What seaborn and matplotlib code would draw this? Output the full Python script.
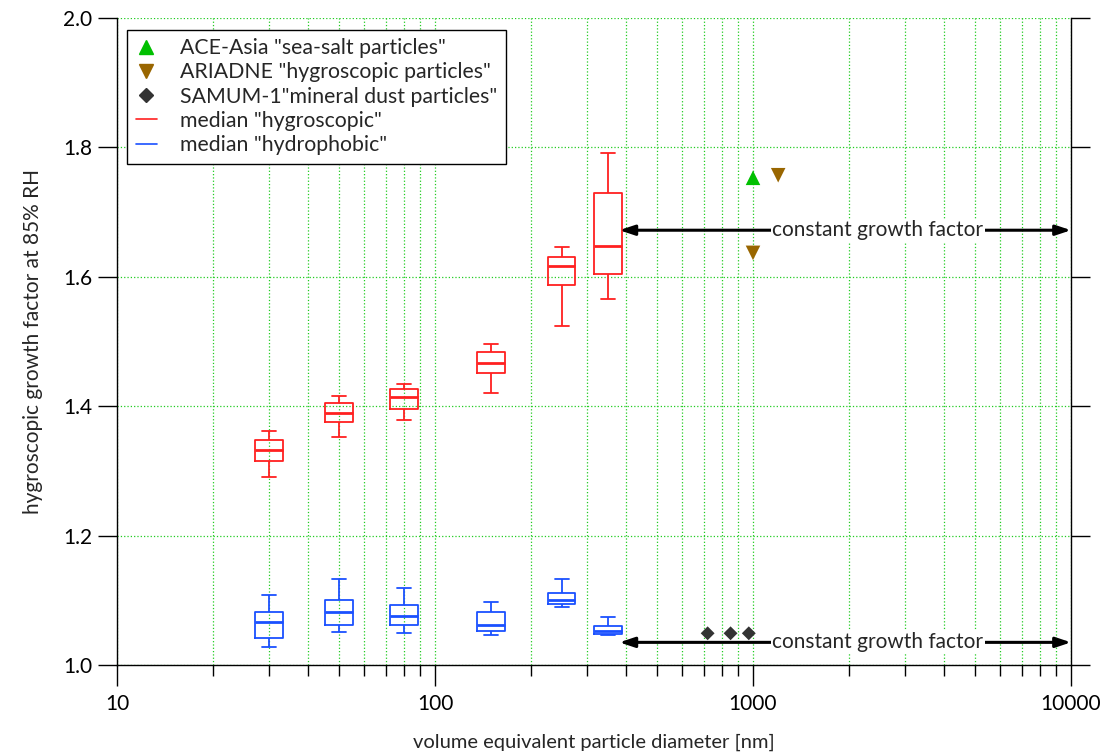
import numpy as np
import pandas as pd
import matplotlib
matplotlib.use("Agg")
import matplotlib.pyplot as plt
import matplotlib.ticker as mticker
from matplotlib.lines import Line2D
import seaborn as sns

# box plot positions: volume equivalent particle diameter [nm]
diameters = [30, 50, 80, 150, 250, 350]

# hygroscopic mode (red): lower whisker, q1, median, q3, upper whisker
hyg_low = [1.291, 1.353, 1.379, 1.420, 1.524, 1.566]
hyg_q1 = [1.315, 1.376, 1.396, 1.451, 1.587, 1.604]
hyg_med = [1.333, 1.390, 1.414, 1.467, 1.616, 1.648]
hyg_q3 = [1.347, 1.405, 1.427, 1.483, 1.631, 1.730]
hyg_high = [1.362, 1.416, 1.435, 1.496, 1.646, 1.792]

# hydrophobic mode (blue)
hph_low = [1.028, 1.051, 1.050, 1.047, 1.089, 1.047]
hph_q1 = [1.042, 1.062, 1.062, 1.052, 1.095, 1.048]
hph_med = [1.066, 1.082, 1.075, 1.062, 1.101, 1.053]
hph_q3 = [1.082, 1.100, 1.092, 1.082, 1.111, 1.060]
hph_high = [1.108, 1.133, 1.119, 1.098, 1.133, 1.074]

# other campaigns
ace_d = [1000]
ace_gf = [1.753]
ariadne_d = [1200, 1000]
ariadne_gf = [1.757, 1.637]
samum_d = [720, 850, 970]
samum_gf = [1.049, 1.049, 1.049]

# constant growth factor ranges
const_start = 380
const_end = 10000
const_hyg = 1.672
const_hph = 1.035
const_label_x = 2470


def to_long(low, q1, med, q3, high):
    rows = []
    for i, d in enumerate(diameters):
        for v in (low[i], q1[i], med[i], q3[i], high[i]):
            rows.append({"d": d, "gf": v})
    return pd.DataFrame(rows)


hyg = to_long(hyg_low, hyg_q1, hyg_med, hyg_q3, hyg_high)
hph = to_long(hph_low, hph_q1, hph_med, hph_q3, hph_high)

sns.set_style("ticks")
plt.rcParams["font.family"] = ["Lato", "DejaVu Sans"]

fig = plt.figure(figsize=(11.07, 7.56), dpi=100)
ax = fig.add_axes([117 / 1107, 1 - 665 / 756, (1071 - 117) / 1107, (665 - 18) / 756])
ax.set_xscale("log")

red = "#ff2020"
blue = "#1a50ff"
for df, col in [(hyg, red), (hph, blue)]:
    sns.boxplot(data=df, x="d", y="gf", native_scale=True, whis=(0, 100),
                fill=False, color=col, linecolor=col, width=0.6, linewidth=1.3,
                medianprops=dict(linewidth=2.0), legend=False, ax=ax)

sns.scatterplot(x=ace_d, y=ace_gf, marker="^", s=110, color="#00c000",
                edgecolor="none", ax=ax, zorder=4)
sns.scatterplot(x=ariadne_d, y=ariadne_gf, marker="v", s=110, color="#996600",
                edgecolor="none", ax=ax, zorder=4)
sns.scatterplot(x=samum_d, y=samum_gf, marker="D", s=50, color="#333333",
                edgecolor="none", ax=ax, zorder=4)

for yv in [const_hyg, const_hph]:
    ax.annotate("", xy=(const_end, yv), xytext=(const_start, yv),
                arrowprops=dict(arrowstyle="<|-|>,head_length=0.9,head_width=0.3",
                                lw=2.2, color="black", shrinkA=0, shrinkB=0),
                zorder=5)
    ax.text(const_label_x, yv, "constant growth factor", ha="center", va="center",
            fontsize=15, zorder=6,
            bbox=dict(facecolor="white", edgecolor="none", pad=1.0))

ax.set_xlim(10, 10000)
ax.set_ylim(1.0, 2.0)
ax.set_yticks([1.0, 1.2, 1.4, 1.6, 1.8, 2.0])
ax.yaxis.set_major_formatter(mticker.FormatStrFormatter("%.1f"))
ax.xaxis.set_major_locator(mticker.LogLocator(base=10))
ax.xaxis.set_minor_locator(mticker.LogLocator(base=10, subs=np.arange(2, 10)))
ax.xaxis.set_major_formatter(mticker.FuncFormatter(lambda v, p: f"{v:g}"))
ax.xaxis.set_minor_formatter(mticker.NullFormatter())

ax.grid(which="both", axis="x", color="#22cc22", linestyle=":", linewidth=0.9)
ax.grid(which="major", axis="y", color="#22cc22", linestyle=":", linewidth=0.9)
ax.set_axisbelow(True)

for s in ["left", "bottom", "right"]:
    ax.spines[s].set_visible(True)
    ax.spines[s].set_color("black")
    ax.spines[s].set_linewidth(1.0)
ax.spines["top"].set_visible(False)

ax.tick_params(axis="x", which="major", direction="out", length=15, width=1,
               labelsize=15, pad=6, colors="black")
ax.tick_params(axis="x", which="minor", direction="out", length=8, width=1,
               colors="black")
ax.tick_params(axis="y", which="major", direction="out", length=14, width=1,
               left=True, right=True, labelleft=True, labelright=False,
               labelsize=15, pad=4, colors="black")

ax.set_xlabel("volume equivalent particle diameter [nm]", fontsize=14.5, labelpad=14)
ax.set_ylabel("hygroscopic growth factor at 85% RH", fontsize=15, labelpad=14)

handles = [
    Line2D([], [], marker="^", color="#00c000", ls="none", markersize=10),
    Line2D([], [], marker="v", color="#996600", ls="none", markersize=10),
    Line2D([], [], marker="D", color="#333333", ls="none", markersize=7),
    Line2D([], [], color=red, lw=1.2),
    Line2D([], [], color=blue, lw=1.2),
]
labels = ['ACE-Asia "sea-salt particles"', 'ARIADNE "hygroscopic particles"',
          'SAMUM-1"mineral dust particles"', 'median "hygroscopic"',
          'median "hydrophobic"']
leg = ax.legend(handles, labels, loc="upper left", bbox_to_anchor=(0.0105, 0.982),
                borderaxespad=0, fontsize=15.3, handlelength=1.0, handletextpad=1.1,
                labelspacing=0.2, borderpad=0.4, fancybox=False, framealpha=1,
                edgecolor="black")
leg.get_frame().set_linewidth(1.0)

fig.savefig("out.png", dpi=100)
